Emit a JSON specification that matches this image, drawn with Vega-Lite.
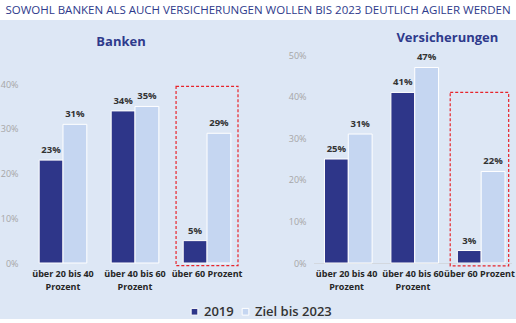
{
  "$schema": "https://vega.github.io/schema/vega-lite/v6.json",
  "background": "#dde7f5",
  "padding": 0,
  "config": {
    "font": "Open Sans",
    "view": {"stroke": null},
    "axis": {"grid": false, "ticks": false}
  },
  "datasets": {
    "banken": [
      {"cat": "über 20 bis 40 Prozent", "series": "2019", "value": 0.23},
      {"cat": "über 20 bis 40 Prozent", "series": "Ziel bis 2023", "value": 0.31},
      {"cat": "über 40 bis 60 Prozent", "series": "2019", "value": 0.34},
      {"cat": "über 40 bis 60 Prozent", "series": "Ziel bis 2023", "value": 0.35},
      {"cat": "über 60 Prozent", "series": "2019", "value": 0.05},
      {"cat": "über 60 Prozent", "series": "Ziel bis 2023", "value": 0.29}
    ],
    "vers": [
      {"cat": "über 20 bis 40 Prozent", "series": "2019", "value": 0.25},
      {"cat": "über 20 bis 40 Prozent", "series": "Ziel bis 2023", "value": 0.31},
      {"cat": "über 40 bis 60 Prozent", "series": "2019", "value": 0.41},
      {"cat": "über 40 bis 60 Prozent", "series": "Ziel bis 2023", "value": 0.47},
      {"cat": "über 60 Prozent", "series": "2019", "value": 0.03},
      {"cat": "über 60 Prozent", "series": "Ziel bis 2023", "value": 0.22}
    ],
    "boxB": [{"cat": "über 60 Prozent", "y0": -0.006, "y1": 0.395}],
    "boxV": [{"cat": "über 60 Prozent", "y0": -0.007, "y1": 0.41}],
    "head": [{"t": "SOWOHL BANKEN ALS AUCH VERSICHERUNGEN WOLLEN BIS 2023 DEUTLICH AGILER WERDEN", "pos": 0.5}]
  },
  "spacing": 12,
  "vconcat": [
    {
      "data": {"name": "head"},
      "width": 516,
      "height": 20,
      "view": {"fill": "white", "stroke": null},
      "mark": {"type": "text", "fontSize": 11.5, "color": "#2e3a8c", "baseline": "middle", "align": "center", "dy": 1},
      "encoding": {
        "x": {"field": "pos", "type": "quantitative", "scale": {"domain": [0, 1]}, "axis": null},
        "text": {"field": "t", "type": "nominal"}
      }
    },
    {
      "spacing": 46,
      "hconcat": [
        {
          "width": 242,
          "height": 208,
          "title": {"text": "Banken", "fontSize": 13, "fontWeight": "bold", "color": "#2e3a8c", "anchor": "middle", "dx": 0, "offset": 6},
          "encoding": {
            "x": {"field": "cat", "type": "nominal", "sort": ["über 20 bis 40 Prozent", "über 40 bis 60 Prozent", "über 60 Prozent"],
              "scale": {"paddingInner": 0.14, "paddingOuter": 0.25, "align": 0.889},
              "axis": {"title": null, "labelAngle": 0, "labelFontWeight": "bold", "labelFontSize": 9, "labelColor": "#262626", "labelPadding": 6, "labelLineHeight": 13,
                "domain": false,
                "labelExpr": "datum.value == 'über 60 Prozent' ? datum.value : [replace(datum.value, ' Prozent', ''), 'Prozent']"}}
          },
          "layer": [
            {
              "data": {"name": "banken"},
              "mark": {"type": "bar", "stroke": "white", "strokeWidth": 1},
              "encoding": {
                "xOffset": {"field": "series", "type": "nominal", "scale": {"paddingOuter": 0.3, "paddingInner": 0}},
                "y": {"field": "value", "type": "quantitative", "scale": {"domain": [0, 0.465], "nice": false},
                  "axis": {"title": null, "format": ".0%", "values": [0, 0.1, 0.2, 0.3, 0.4], "domain": false, "labelColor": "#a6a6a6", "labelFontSize": 9, "labelPadding": 10, "offset": -28}},
                "color": {"field": "series", "type": "nominal", "scale": {"domain": ["2019", "Ziel bis 2023"], "range": ["#2e3689", "#c5d6f1"]},
                  "legend": {"title": null, "orient": "none", "legendX": 188, "legendY": 305, "direction": "horizontal", "symbolType": "square", "symbolSize": 45, "symbolStrokeColor": "white", "symbolStrokeWidth": 1, "labelFontSize": 13, "labelFontWeight": 600, "labelColor": "#333333", "labelOffset": 3, "columnPadding": 5}}
              }
            },
            {
              "data": {"name": "banken"},
              "mark": {"type": "text", "dy": -5, "baseline": "bottom", "fontSize": 9.5, "fontWeight": "bold", "color": "#333333"},
              "encoding": {
                "xOffset": {"field": "series", "type": "nominal", "scale": {"paddingOuter": 0.3, "paddingInner": 0}},
                "y": {"field": "value", "type": "quantitative"},
                "text": {"field": "value", "type": "quantitative", "format": ".0%"}
              }
            },
            {
              "data": {"name": "boxB"},
              "mark": {"type": "rect", "fill": null, "stroke": "#e8242b", "strokeWidth": 1.2, "strokeDash": [3, 2]},
              "encoding": {
                "y": {"field": "y0", "type": "quantitative"},
                "y2": {"field": "y1"}
              }
            }
          ]
        },
        {
          "width": 198,
          "height": 208,
          "title": {"text": "Versicherungen", "fontSize": 13, "fontWeight": "bold", "color": "#2e3a8c", "anchor": "end", "dx": -16, "offset": 6},
          "encoding": {
            "x": {"field": "cat", "type": "nominal", "sort": ["über 20 bis 40 Prozent", "über 40 bis 60 Prozent", "über 60 Prozent"],
              "scale": {"paddingInner": 0.12, "paddingOuter": 0.05},
              "axis": {"title": null, "labelAngle": 0, "labelFontWeight": "bold", "labelFontSize": 9, "labelColor": "#262626", "labelPadding": 6, "labelLineHeight": 13,
                "domainColor": "#c8c8c8", "domainDash": [1, 1],
                "labelExpr": "datum.value == 'über 60 Prozent' ? datum.value : [replace(datum.value, ' Prozent', ''), 'Prozent']"}}
          },
          "layer": [
            {
              "data": {"name": "vers"},
              "mark": {"type": "bar", "stroke": "white", "strokeWidth": 1},
              "encoding": {
                "xOffset": {"field": "series", "type": "nominal", "scale": {"paddingOuter": 0.3, "paddingInner": 0}},
                "y": {"field": "value", "type": "quantitative", "scale": {"domain": [0, 0.5], "nice": false},
                  "axis": {"title": null, "format": ".0%", "values": [0, 0.1, 0.2, 0.3, 0.4, 0.5], "domain": false, "labelColor": "#a6a6a6", "labelFontSize": 9, "labelPadding": 8, "minExtent": 25}},
                "color": {"field": "series", "type": "nominal", "scale": {"domain": ["2019", "Ziel bis 2023"], "range": ["#2e3689", "#c5d6f1"]}}
              }
            },
            {
              "data": {"name": "vers"},
              "mark": {"type": "text", "dy": -5, "baseline": "bottom", "fontSize": 9.5, "fontWeight": "bold", "color": "#333333"},
              "encoding": {
                "xOffset": {"field": "series", "type": "nominal", "scale": {"paddingOuter": 0.3, "paddingInner": 0}},
                "y": {"field": "value", "type": "quantitative"},
                "text": {"field": "value", "type": "quantitative", "format": ".0%"}
              }
            },
            {
              "data": {"name": "boxV"},
              "mark": {"type": "rect", "fill": null, "stroke": "#e8242b", "strokeWidth": 1.2, "strokeDash": [3, 2]},
              "encoding": {
                "y": {"field": "y0", "type": "quantitative"},
                "y2": {"field": "y1"}
              }
            }
          ]
        }
      ]
    }
  ]
}
